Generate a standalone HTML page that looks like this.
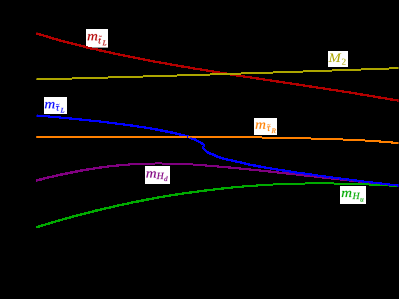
<!DOCTYPE html>
<html><head><meta charset="utf-8"><style>
html,body{margin:0;padding:0;background:#000;}
#c{position:relative;width:399px;height:299px;background:#000;overflow:hidden;}
svg{position:absolute;left:0;top:0;}
text{font-family:"Liberation Serif",serif;font-style:italic;}
</style></head><body><div id="c">
<svg width="399" height="299" viewBox="0 0 399 299">
<rect x="86" y="29" width="22" height="18.6" fill="#fff"/>
<rect x="328" y="51" width="20" height="16" fill="#fff"/>
<rect x="44" y="97" width="23" height="17" fill="#fff"/>
<rect x="254" y="118" width="23" height="17" fill="#fff"/>
<rect x="145" y="166" width="25" height="18" fill="#fff"/>
<rect x="340" y="186" width="26" height="18" fill="#fff"/>
<g shape-rendering="crispEdges">
<path d="M36 33h3v2h-3zM39 33h2v3h-2zM41 34h2v2h-2zM43 34h1v3h-1zM44 35h2v2h-2zM46 35h2v3h-2zM48 36h1v2h-1zM49 36h2v3h-2zM51 37h1v2h-1zM52 37h2v3h-2zM54 38h2v2h-2zM56 38h2v3h-2zM58 39h1v2h-1zM59 39h2v3h-2zM61 40h2v2h-2zM63 40h2v3h-2zM65 41h2v2h-2zM67 41h2v3h-2zM69 42h2v2h-2zM71 42h2v3h-2zM73 43h2v2h-2zM75 43h2v3h-2zM77 44h2v2h-2zM79 44h2v3h-2zM81 45h2v2h-2zM83 45h2v3h-2zM85 46h1v2h-1zM86 46h2v3h-2zM88 47h2v2h-2zM90 47h2v3h-2zM92 48h4v2h-4zM96 48h2v3h-2zM98 49h1v2h-1zM99 49h3v3h-3zM102 50h2v2h-2zM104 50h2v3h-2zM106 51h3v2h-3zM109 51h2v3h-2zM111 52h2v2h-2zM113 52h2v3h-2zM115 53h3v2h-3zM118 53h2v3h-2zM120 54h3v2h-3zM123 54h2v3h-2zM125 55h3v2h-3zM128 55h2v3h-2zM130 56h3v2h-3zM133 56h2v3h-2zM135 57h3v2h-3zM138 57h2v3h-2zM140 58h3v2h-3zM143 58h2v3h-2zM145 59h3v2h-3zM148 59h2v3h-2zM150 60h3v2h-3zM153 60h2v3h-2zM155 61h4v2h-4zM159 61h2v3h-2zM161 62h4v2h-4zM165 62h2v3h-2zM167 63h3v2h-3zM170 63h2v3h-2zM172 64h4v2h-4zM176 64h2v3h-2zM178 65h3v2h-3zM181 65h3v3h-3zM184 66h4v2h-4zM188 66h2v3h-2zM190 67h3v2h-3zM193 67h2v3h-2zM195 68h5v2h-5zM200 68h2v3h-2zM202 69h4v2h-4zM206 69h2v3h-2zM208 70h4v2h-4zM212 70h2v3h-2zM214 71h4v2h-4zM218 71h2v3h-2zM220 72h5v2h-5zM225 72h2v3h-2zM227 73h3v2h-3zM230 73h2v3h-2zM232 74h4v2h-4zM236 74h3v3h-3zM239 75h4v2h-4zM243 75h2v3h-2zM245 76h5v2h-5zM250 76h2v3h-2zM252 77h4v2h-4zM256 77h3v3h-3zM259 78h4v2h-4zM263 78h2v3h-2zM265 79h5v2h-5zM270 79h2v3h-2zM272 80h4v2h-4zM276 80h3v3h-3zM279 81h4v2h-4zM283 81h2v3h-2zM285 82h5v2h-5zM290 82h2v3h-2zM292 83h4v2h-4zM296 83h3v3h-3zM299 84h4v2h-4zM303 84h2v3h-2zM305 85h4v2h-4zM309 85h3v3h-3zM312 86h4v2h-4zM316 86h2v3h-2zM318 87h5v2h-5zM323 87h2v3h-2zM325 88h4v2h-4zM329 88h2v3h-2zM331 89h5v2h-5zM336 89h2v3h-2zM338 90h4v2h-4zM342 90h2v3h-2zM344 91h5v2h-5zM349 91h2v3h-2zM351 92h4v2h-4zM355 92h2v3h-2zM357 93h3v2h-3zM360 93h3v3h-3zM363 94h4v2h-4zM367 94h2v3h-2zM369 95h4v2h-4zM373 95h2v3h-2zM375 96h3v2h-3zM378 96h3v3h-3zM381 97h4v2h-4zM385 97h2v3h-2zM387 98h3v2h-3zM390 98h3v3h-3zM393 99h4v2h-4zM397 99h2v3h-2z" fill="#b20000"/>
<path d="M36 78h36v2h-36zM72 77h36v2h-36zM108 76h35v2h-35zM143 75h34v2h-34zM177 74h33v2h-33zM210 73h31v2h-31zM241 72h32v2h-32zM273 71h30v2h-30zM303 70h29v2h-29zM332 69h29v2h-29zM361 68h28v2h-28zM389 67h10v2h-10z" fill="#ada600"/>
<path d="M36 179h1v3h-1zM37 179h2v2h-2zM39 178h3v3h-3zM42 178h1v2h-1zM43 177h2v3h-2zM45 177h2v2h-2zM47 176h2v3h-2zM49 176h3v2h-3zM52 175h2v3h-2zM54 175h2v2h-2zM56 174h2v3h-2zM58 174h2v2h-2zM60 173h3v3h-3zM63 173h2v2h-2zM65 172h3v3h-3zM68 172h2v2h-2zM70 171h3v3h-3zM73 171h2v2h-2zM75 170h3v3h-3zM78 170h2v2h-2zM80 169h3v3h-3zM83 169h3v2h-3zM86 168h3v3h-3zM89 168h4v2h-4zM93 167h2v3h-2zM95 167h4v2h-4zM99 166h3v3h-3zM102 166h5v2h-5zM107 165h2v3h-2zM109 165h7v2h-7zM116 164h3v3h-3zM119 164h9v2h-9zM128 163h2v3h-2zM130 163h25v2h-25zM155 162h7v2h-7zM162 163h31v2h-31zM193 164h12v2h-12zM205 164h2v3h-2zM207 165h10v2h-10zM217 165h2v3h-2zM219 166h9v2h-9zM228 166h3v3h-3zM231 167h8v2h-8zM239 167h2v3h-2zM241 168h8v2h-8zM249 168h2v3h-2zM251 169h8v2h-8zM259 169h2v3h-2zM261 170h7v2h-7zM268 170h3v3h-3zM271 171h6v2h-6zM277 171h2v3h-2zM279 172h7v2h-7zM286 172h3v3h-3zM289 173h7v2h-7zM296 173h2v3h-2zM298 174h6v2h-6zM304 174h2v3h-2zM306 175h8v2h-8zM314 175h2v3h-2zM316 176h6v2h-6zM322 176h2v3h-2zM324 177h7v2h-7zM331 177h2v3h-2zM333 178h7v2h-7zM340 178h2v3h-2zM342 179h7v2h-7zM349 179h2v3h-2zM351 180h7v2h-7zM358 180h3v3h-3zM361 181h7v2h-7zM368 181h2v3h-2zM370 182h7v2h-7zM377 182h2v3h-2zM379 183h7v2h-7zM386 183h2v3h-2zM388 184h7v2h-7zM395 184h2v3h-2zM397 185h2v2h-2z" fill="#800080"/>
<path d="M36 226h2v2h-2zM38 225h2v3h-2zM40 225h1v2h-1zM41 224h2v3h-2zM43 224h2v2h-2zM45 223h1v3h-1zM46 223h2v2h-2zM48 222h2v3h-2zM50 222h1v2h-1zM51 221h2v3h-2zM53 221h2v2h-2zM55 220h1v3h-1zM56 220h2v2h-2zM58 219h2v3h-2zM60 219h2v2h-2zM62 218h1v3h-1zM63 218h2v2h-2zM65 217h2v3h-2zM67 217h2v2h-2zM69 216h2v3h-2zM71 216h1v2h-1zM72 215h2v3h-2zM74 215h2v2h-2zM76 214h2v3h-2zM78 214h2v2h-2zM80 213h2v3h-2zM82 213h2v2h-2zM84 212h2v3h-2zM86 212h2v2h-2zM88 211h2v3h-2zM90 211h2v2h-2zM92 210h2v3h-2zM94 210h1v2h-1zM95 209h3v3h-3zM98 209h2v2h-2zM100 208h2v3h-2zM102 208h2v2h-2zM104 207h2v3h-2zM106 207h3v2h-3zM109 206h2v3h-2zM111 206h2v2h-2zM113 205h2v3h-2zM115 205h2v2h-2zM117 204h2v3h-2zM119 204h3v2h-3zM122 203h2v3h-2zM124 203h3v2h-3zM127 202h2v3h-2zM129 202h2v2h-2zM131 201h2v3h-2zM133 201h3v2h-3zM136 200h3v3h-3zM139 200h2v2h-2zM141 199h3v3h-3zM144 199h2v2h-2zM146 198h3v3h-3zM149 198h3v2h-3zM152 197h2v3h-2zM154 197h3v2h-3zM157 196h2v3h-2zM159 196h4v2h-4zM163 195h2v3h-2zM165 195h4v2h-4zM169 194h2v3h-2zM171 194h4v2h-4zM175 193h3v3h-3zM178 193h4v2h-4zM182 192h2v3h-2zM184 192h5v2h-5zM189 191h3v3h-3zM192 191h5v2h-5zM197 190h2v3h-2zM199 190h5v2h-5zM204 189h3v3h-3zM207 189h6v2h-6zM213 188h2v3h-2zM215 188h6v2h-6zM221 187h3v3h-3zM224 187h7v2h-7zM231 186h2v3h-2zM233 186h9v2h-9zM242 185h2v3h-2zM244 185h12v2h-12zM256 184h2v3h-2zM258 184h15v2h-15zM273 183h32v2h-32zM305 182h29v2h-29zM334 183h35v2h-35zM369 184h20v2h-20zM389 185h10v2h-10z" fill="#00aa00"/>
<path d="M36 115h12v2h-12zM48 115h2v3h-2zM50 116h9v2h-9zM59 116h2v3h-2zM61 117h8v2h-8zM69 117h3v3h-3zM72 118h7v2h-7zM79 118h3v3h-3zM82 119h7v2h-7zM89 119h2v3h-2zM91 120h8v2h-8zM99 120h2v3h-2zM101 121h6v2h-6zM107 121h2v3h-2zM109 122h6v2h-6zM115 122h2v3h-2zM117 123h6v2h-6zM123 123h2v3h-2zM125 124h5v2h-5zM130 124h3v3h-3zM133 125h4v2h-4zM137 125h2v3h-2zM139 126h5v2h-5zM144 126h2v3h-2zM146 127h4v2h-4zM150 127h2v3h-2zM152 128h3v2h-3zM155 128h3v3h-3zM158 129h2v2h-2zM160 129h3v3h-3zM163 130h2v2h-2zM165 130h3v3h-3zM168 131h2v2h-2zM170 131h3v3h-3zM173 132h2v2h-2zM175 132h2v3h-2zM177 133h2v2h-2zM179 133h2v3h-2zM181 134h2v2h-2zM183 134h2v3h-2zM185 135h2v2h-2zM187 135h2v3h-2zM189 136h2v3h-2zM191 137h2v3h-2zM193 138h1v2h-1zM194 138h2v3h-2zM196 139h1v3h-1zM197 140h1v2h-1zM198 140h1v3h-1zM199 141h1v2h-1zM200 141h1v3h-1zM201 142h2v3h-2zM203 143h1v3h-1zM204 144h1v3h-1z" fill="#0000ff"/>
<path d="M202 146h1v3h-1zM203 146h1v4h-1zM204 148h1v3h-1zM205 149h1v3h-1zM206 150h1v3h-1zM207 151h2v3h-2zM209 152h2v3h-2zM211 153h1v2h-1zM212 153h2v3h-2zM214 154h2v3h-2zM216 155h2v3h-2zM218 156h1v2h-1zM219 156h2v3h-2zM221 157h1v2h-1zM222 157h2v3h-2zM224 158h2v2h-2zM226 158h2v3h-2zM228 159h3v2h-3zM231 159h2v3h-2zM233 160h2v2h-2zM235 160h2v3h-2zM237 161h3v2h-3zM240 161h2v3h-2zM242 162h2v2h-2zM244 162h2v3h-2zM246 163h2v2h-2zM248 163h2v3h-2zM250 164h3v2h-3zM253 164h3v3h-3zM256 165h2v2h-2zM258 165h3v3h-3zM261 166h3v2h-3zM264 166h2v3h-2zM266 167h4v2h-4zM270 167h2v3h-2zM272 168h4v2h-4zM276 168h2v3h-2zM278 169h4v2h-4zM282 169h3v3h-3zM285 170h4v2h-4zM289 170h2v3h-2zM291 171h4v2h-4zM295 171h2v3h-2zM297 172h6v2h-6zM303 172h2v3h-2zM305 173h5v2h-5zM310 173h2v3h-2zM312 174h4v2h-4zM316 174h2v3h-2zM318 175h6v2h-6zM324 175h2v3h-2zM326 176h5v2h-5zM331 176h2v3h-2zM333 177h6v2h-6zM339 177h2v3h-2zM341 178h6v2h-6zM347 178h2v3h-2zM349 179h5v2h-5zM354 179h3v3h-3zM357 180h5v2h-5zM362 180h2v3h-2zM364 181h7v2h-7zM371 181h2v3h-2zM373 182h7v2h-7zM380 182h2v3h-2zM382 183h6v2h-6zM388 183h2v3h-2zM390 184h7v2h-7zM397 184h2v3h-2z" fill="#0000ff"/>
<path d="M36 136h226v2h-226zM262 137h49v2h-49zM311 138h32v2h-32zM343 139h22v2h-22zM365 140h14v2h-14zM379 140h2v3h-2zM381 141h10v2h-10zM391 141h2v3h-2zM393 142h6v2h-6z" fill="#ff8000"/>
<rect x="303" y="174" width="1" height="1" fill="#800080" fill-opacity="0.75"/>
<rect x="312" y="175" width="1" height="1" fill="#800080" fill-opacity="0.75"/>
<rect x="316" y="176" width="1" height="1" fill="#800080" fill-opacity="0.75"/>
<rect x="320" y="176" width="1" height="1" fill="#800080" fill-opacity="0.75"/>
<rect x="325" y="177" width="1" height="1" fill="#800080" fill-opacity="0.75"/>
<rect x="329" y="177" width="1" height="1" fill="#800080" fill-opacity="0.75"/>
<rect x="333" y="178" width="1" height="1" fill="#800080" fill-opacity="0.75"/>
<rect x="338" y="178" width="1" height="1" fill="#800080" fill-opacity="0.75"/>
<rect x="342" y="179" width="1" height="1" fill="#800080" fill-opacity="0.75"/>
<rect x="346" y="179" width="1" height="1" fill="#800080" fill-opacity="0.75"/>
<rect x="351" y="180" width="1" height="1" fill="#800080" fill-opacity="0.75"/>
<rect x="355" y="181" width="1" height="1" fill="#800080" fill-opacity="0.75"/>
<rect x="359" y="181" width="1" height="1" fill="#800080" fill-opacity="0.75"/>
<rect x="363" y="182" width="1" height="1" fill="#800080" fill-opacity="0.75"/>
<rect x="368" y="182" width="1" height="1" fill="#800080" fill-opacity="0.75"/>
<rect x="372" y="183" width="1" height="1" fill="#800080" fill-opacity="0.75"/>
<rect x="376" y="183" width="1" height="1" fill="#800080" fill-opacity="0.75"/>
<rect x="381" y="184" width="1" height="1" fill="#800080" fill-opacity="0.75"/>
<rect x="385" y="184" width="1" height="1" fill="#800080" fill-opacity="0.75"/>
<rect x="389" y="185" width="1" height="1" fill="#800080" fill-opacity="0.75"/>
<rect x="394" y="185" width="1" height="1" fill="#800080" fill-opacity="0.75"/>
<rect x="36" y="78" width="1" height="1" fill="#000" fill-opacity="0.55"/>
<rect x="36" y="79" width="1" height="1" fill="#000" fill-opacity="0.25"/>
<rect x="36" y="136" width="1" height="2" fill="#000" fill-opacity="0.2"/>
<rect x="36" y="115" width="1" height="2" fill="#000" fill-opacity="0.5"/>
<rect x="36.6" y="114" width="1.2" height="1" fill="#0000ff" fill-opacity="0.5"/>
<rect x="187" y="136" width="1" height="2" fill="#0000ff"/>
<rect x="190" y="137" width="2" height="1" fill="#0000ff" fill-opacity="0.45"/>
<rect x="203" y="146" width="1" height="1" fill="#0000a8"/>
<rect x="36" y="32" width="1.6" height="1" fill="#b20000" fill-opacity="0.45"/>
<rect x="36" y="181" width="1.6" height="1" fill="#800080" fill-opacity="0.45"/>
</g>
<path transform="translate(87.11 40.25) scale(0.00730 -0.00635)" d="M873 746Q941 843 1027.0 904.0Q1113 965 1192 965Q1276 965 1324.5 911.5Q1373 858 1373 757Q1373 735 1368.5 699.5Q1364 664 1262 70L1393 45L1384 0H1083L1186 582Q1209 703 1209 748Q1209 793 1188.0 820.5Q1167 848 1122 848Q1078 848 1017.0 806.0Q956 764 906.5 698.5Q857 633 847 576L748 0H582L684 582Q709 713 709 748Q709 793 687.0 820.5Q665 848 618 848Q574 848 510.0 803.5Q446 759 397.0 695.5Q348 632 339 576L240 0H74L227 870L109 895L117 940H395L367 746Q437 845 524.0 905.0Q611 965 688 965Q776 965 824.5 909.5Q873 854 873 746Z" fill="#b20000" stroke="#b20000" stroke-width="31.5" stroke-linejoin="round"/>
<path transform="translate(98.18 43.40) scale(0.00469 -0.00469)" d="M264 174Q264 129 286.5 106.5Q309 84 344 84Q417 84 496 114L517 67Q394 -20 268 -20Q189 -20 143.5 28.0Q98 76 98 162Q98 191 103.5 230.5Q109 270 213 856H90L98 901L231 940L368 1153H432L395 940H610L594 856H379L282 307Q264 215 264 174Z" fill="#b20000" stroke="#b20000" stroke-width="38.4" stroke-linejoin="round"/>
<path d="M98.9 36.65 Q99.625 35.599999999999994 100.35 36.3 T101.8 35.949999999999996" fill="none" stroke="#b20000" stroke-width="0.8"/>
<path transform="translate(102.68 45.20) scale(0.00342 -0.00342)" d="M355 86H569Q759 86 866 106L977 385H1042L956 0H-24L-14 53L161 80L370 1262L202 1288L212 1341H784L774 1288L563 1262Z" fill="#b20000" stroke="#b20000" stroke-width="52.7" stroke-linejoin="round"/>
<path transform="translate(328.62 61.90) scale(0.00711 -0.00635)" d="M721 0H686L455 1153L266 80L442 53L432 0H-24L-14 53L161 80L370 1262L202 1288L212 1341H594L800 318L1398 1341H1800L1790 1288L1614 1262L1405 80L1573 53L1563 0H1019L1029 53L1213 80L1402 1153Z" fill="#ada600" stroke="#ada600" stroke-width="7.9" stroke-linejoin="round"/>
<path transform="translate(341.60 64.60) scale(0.00439 -0.00439)" d="M911 0H90V147L276 316Q455 473 539.0 570.0Q623 667 659.5 770.0Q696 873 696 1006Q696 1136 637.0 1204.0Q578 1272 444 1272Q391 1272 335.0 1257.5Q279 1243 236 1219L201 1055H135V1313Q317 1356 444 1356Q664 1356 774.5 1264.5Q885 1173 885 1006Q885 894 841.5 794.5Q798 695 708.0 596.5Q618 498 410 321Q321 245 221 154H911Z" fill="#ada600" stroke="#ada600" stroke-width="22.8" stroke-linejoin="round"/>
<path transform="translate(44.41 108.25) scale(0.00730 -0.00635)" d="M873 746Q941 843 1027.0 904.0Q1113 965 1192 965Q1276 965 1324.5 911.5Q1373 858 1373 757Q1373 735 1368.5 699.5Q1364 664 1262 70L1393 45L1384 0H1083L1186 582Q1209 703 1209 748Q1209 793 1188.0 820.5Q1167 848 1122 848Q1078 848 1017.0 806.0Q956 764 906.5 698.5Q857 633 847 576L748 0H582L684 582Q709 713 709 748Q709 793 687.0 820.5Q665 848 618 848Q574 848 510.0 803.5Q446 759 397.0 695.5Q348 632 339 576L240 0H74L227 870L109 895L117 940H395L367 746Q437 845 524.0 905.0Q611 965 688 965Q776 965 824.5 909.5Q873 854 873 746Z" fill="#0000ff" stroke="#0000ff" stroke-width="31.5" stroke-linejoin="round"/>
<path transform="translate(55.69 110.50) scale(0.00469 -0.00469)" d="M394 174Q394 84 460 84Q509 84 583 120L608 74Q560 34 506.0 7.0Q452 -20 381 -20Q309 -20 268.5 28.0Q228 76 228 162Q228 191 233.5 230.5Q239 270 343 856H172L102 728H45L103 940H795L780 856H509L412 307Q394 212 394 174Z" fill="#0000ff" stroke="#0000ff" stroke-width="38.4" stroke-linejoin="round"/>
<path d="M56.2 104.85 Q57.0 103.8 57.8 104.5 T59.4 104.15" fill="none" stroke="#0000ff" stroke-width="0.8"/>
<path transform="translate(60.68 112.50) scale(0.00342 -0.00342)" d="M355 86H569Q759 86 866 106L977 385H1042L956 0H-24L-14 53L161 80L370 1262L202 1288L212 1341H784L774 1288L563 1262Z" fill="#0000ff" stroke="#0000ff" stroke-width="52.7" stroke-linejoin="round"/>
<path transform="translate(255.11 128.65) scale(0.00730 -0.00635)" d="M873 746Q941 843 1027.0 904.0Q1113 965 1192 965Q1276 965 1324.5 911.5Q1373 858 1373 757Q1373 735 1368.5 699.5Q1364 664 1262 70L1393 45L1384 0H1083L1186 582Q1209 703 1209 748Q1209 793 1188.0 820.5Q1167 848 1122 848Q1078 848 1017.0 806.0Q956 764 906.5 698.5Q857 633 847 576L748 0H582L684 582Q709 713 709 748Q709 793 687.0 820.5Q665 848 618 848Q574 848 510.0 803.5Q446 759 397.0 695.5Q348 632 339 576L240 0H74L227 870L109 895L117 940H395L367 746Q437 845 524.0 905.0Q611 965 688 965Q776 965 824.5 909.5Q873 854 873 746Z" fill="#ff8000" stroke="#ff8000" stroke-width="31.5" stroke-linejoin="round"/>
<path transform="translate(266.79 130.90) scale(0.00469 -0.00469)" d="M394 174Q394 84 460 84Q509 84 583 120L608 74Q560 34 506.0 7.0Q452 -20 381 -20Q309 -20 268.5 28.0Q228 76 228 162Q228 191 233.5 230.5Q239 270 343 856H172L102 728H45L103 940H795L780 856H509L412 307Q394 212 394 174Z" fill="#ff8000" stroke="#ff8000" stroke-width="38.4" stroke-linejoin="round"/>
<path d="M267.2 125.14999999999999 Q268.0 124.1 268.79999999999995 124.8 T270.4 124.45" fill="none" stroke="#ff8000" stroke-width="0.8"/>
<path transform="translate(271.54 133.10) scale(0.00342 -0.00342)" d="M444 588 354 80 533 53 523 0H-11L-1 53L161 80L370 1262L202 1288L212 1341H744Q963 1341 1078.0 1258.0Q1193 1175 1193 1016Q1193 700 843 616L1070 80L1217 53L1207 0H899L653 588ZM616 678Q798 678 896.5 764.5Q995 851 995 1010Q995 1251 709 1251H561L460 678Z" fill="#ff8000" stroke="#ff8000" stroke-width="52.7" stroke-linejoin="round"/>
<path transform="translate(145.81 177.45) scale(0.00730 -0.00635)" d="M873 746Q941 843 1027.0 904.0Q1113 965 1192 965Q1276 965 1324.5 911.5Q1373 858 1373 757Q1373 735 1368.5 699.5Q1364 664 1262 70L1393 45L1384 0H1083L1186 582Q1209 703 1209 748Q1209 793 1188.0 820.5Q1167 848 1122 848Q1078 848 1017.0 806.0Q956 764 906.5 698.5Q857 633 847 576L748 0H582L684 582Q709 713 709 748Q709 793 687.0 820.5Q665 848 618 848Q574 848 510.0 803.5Q446 759 397.0 695.5Q348 632 339 576L240 0H74L227 870L109 895L117 940H395L367 746Q437 845 524.0 905.0Q611 965 688 965Q776 965 824.5 909.5Q873 854 873 746Z" fill="#800080" stroke="#800080" stroke-width="31.5" stroke-linejoin="round"/>
<path transform="translate(156.70 179.10) scale(0.00469 -0.00469)" d="M-22 0 -14 53 162 80 369 1262 203 1288 211 1341H748L740 1288L561 1262L469 735H1100L1192 1262L1026 1288L1034 1341H1571L1563 1288L1385 1262L1178 80L1344 53L1335 0H799L807 53L985 80L1084 645H453L354 80L520 53L512 0Z" fill="#800080" stroke="#800080" stroke-width="38.4" stroke-linejoin="round"/>
<path transform="translate(164.09 181.00) scale(0.00342 -0.00342)" d="M783 941Q787 989 851 1352L697 1376L705 1421H1029L789 70L902 45L894 0H609L638 156Q469 -21 329 -21Q206 -21 134.0 71.5Q62 164 62 317Q62 488 135.5 638.5Q209 789 337.0 876.5Q465 964 618 964Q712 964 783 941ZM760 837Q725 860 688.0 873.0Q651 886 598 886Q504 886 422.0 812.0Q340 738 290.0 608.0Q240 478 240 339Q240 232 284.0 168.0Q328 104 403 104Q459 104 524.5 140.5Q590 177 651 243Z" fill="#800080" stroke="#800080" stroke-width="52.7" stroke-linejoin="round"/>
<path transform="translate(341.21 197.00) scale(0.00730 -0.00635)" d="M873 746Q941 843 1027.0 904.0Q1113 965 1192 965Q1276 965 1324.5 911.5Q1373 858 1373 757Q1373 735 1368.5 699.5Q1364 664 1262 70L1393 45L1384 0H1083L1186 582Q1209 703 1209 748Q1209 793 1188.0 820.5Q1167 848 1122 848Q1078 848 1017.0 806.0Q956 764 906.5 698.5Q857 633 847 576L748 0H582L684 582Q709 713 709 748Q709 793 687.0 820.5Q665 848 618 848Q574 848 510.0 803.5Q446 759 397.0 695.5Q348 632 339 576L240 0H74L227 870L109 895L117 940H395L367 746Q437 845 524.0 905.0Q611 965 688 965Q776 965 824.5 909.5Q873 854 873 746Z" fill="#00aa00" stroke="#00aa00" stroke-width="31.5" stroke-linejoin="round"/>
<path transform="translate(352.60 199.10) scale(0.00469 -0.00469)" d="M-22 0 -14 53 162 80 369 1262 203 1288 211 1341H748L740 1288L561 1262L469 735H1100L1192 1262L1026 1288L1034 1341H1571L1563 1288L1385 1262L1178 80L1344 53L1335 0H799L807 53L985 80L1084 645H453L354 80L520 53L512 0Z" fill="#00aa00" stroke="#00aa00" stroke-width="38.4" stroke-linejoin="round"/>
<path transform="translate(360.15 201.50) scale(0.00342 -0.00342)" d="M268 193Q268 148 292.0 120.0Q316 92 368 92Q443 92 530.0 154.5Q617 217 673 308L784 940H950L797 70L915 45L907 0H629L656 193Q573 86 483.0 31.0Q393 -24 305 -24Q204 -24 153.0 30.5Q102 85 102 187Q102 202 107.5 240.5Q113 279 215 871L104 895L112 940H393L291 359Q268 233 268 193Z" fill="#00aa00" stroke="#00aa00" stroke-width="52.7" stroke-linejoin="round"/>
<rect x="398.55" y="0" width="0.45" height="299" fill="#000"/>
</svg>
</div></body></html>
